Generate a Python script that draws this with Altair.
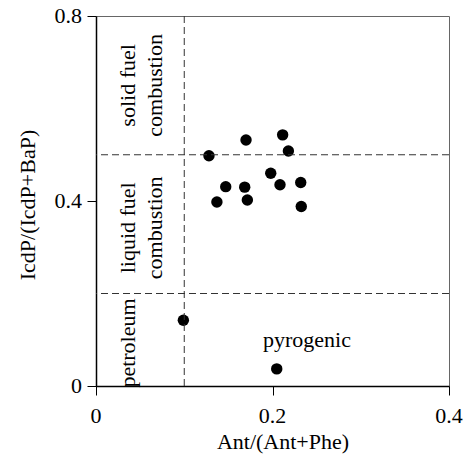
import altair as alt
import pandas as pd

# Data
ant_ratio = [0.128, 0.147, 0.137, 0.170, 0.2115, 0.218, 0.198, 0.2085, 0.232, 0.2326, 0.1685, 0.1715, 0.099, 0.2048]
icdp_ratio = [0.498, 0.431, 0.398, 0.532, 0.543, 0.508, 0.460, 0.435, 0.440, 0.388, 0.430, 0.402, 0.142, 0.037]

x_ticks = [0, 0.2, 0.4]
x_tick_labels = ["0", "0.2", "0.4"]
y_ticks = [0, 0.4, 0.8]
y_tick_labels = ["0", "0.4", "0.8"]

x_title = "Ant/(Ant+Phe)"
y_title = "IcdP/(IcdP+BaP)"

vline_x = [0.1]
hline_y = [0.2, 0.5]

rot_labels = ["solid fuel", "combustion", "liquid fuel", "combustion", "petroleum"]
rot_x = [0.0363, 0.0669, 0.0363, 0.0669, 0.0363]
rot_y = [0.650, 0.650, 0.342, 0.342, 0.093]

hor_labels = ["pyrogenic"]
hor_x = [0.239]
hor_y = [0.0995]

FONT = "Liberation Serif"
FS = 22

pts = pd.DataFrame({"x": ant_ratio, "y": icdp_ratio})
vdf = pd.DataFrame({"x": vline_x})
hdf = pd.DataFrame({"y": hline_y})
rdf = pd.DataFrame({"label": rot_labels, "x": rot_x, "y": rot_y})
tdf = pd.DataFrame({"label": hor_labels, "x": hor_x, "y": hor_y})
xtdf = pd.DataFrame({"x": x_ticks, "label": x_tick_labels})
ytdf = pd.DataFrame({"y": y_ticks, "label": y_tick_labels})
xtitle_df = pd.DataFrame({"label": [x_title]})
ytitle_df = pd.DataFrame({"label": [y_title]})

xscale = alt.Scale(domain=[0, 0.4], nice=False, zero=False)
yscale = alt.Scale(domain=[0, 0.8], nice=False, zero=False)

common = dict(grid=False, domainColor="black", domainWidth=1.5, tickColor="black",
              tickSize=9, tickWidth=1, labels=False, title="")

xaxis = alt.Axis(values=x_ticks, **common)
yaxis = alt.Axis(values=y_ticks, **common)

X = alt.X("x:Q", scale=xscale, axis=xaxis)
Y = alt.Y("y:Q", scale=yscale, axis=yaxis)

points = alt.Chart(pts).mark_circle(size=130, color="black", opacity=1).encode(x=X, y=Y)

vrule = alt.Chart(vdf).mark_rule(color="#333", strokeWidth=1, strokeDash=[7, 4]).encode(x=X)
hrule = alt.Chart(hdf).mark_rule(color="#333", strokeWidth=1, strokeDash=[7, 4]).encode(y=Y)

rtext = alt.Chart(rdf).mark_text(angle=270, font=FONT, fontSize=FS, color="black",
                                 align="center", baseline="middle").encode(
    x=X, y=Y, text="label:N")
htext = alt.Chart(tdf).mark_text(font=FONT, fontSize=FS, color="black",
                                 align="center", baseline="middle").encode(
    x=X, y=Y, text="label:N")

# tick labels placed through the shared scales
xlab = alt.Chart(xtdf).mark_text(font=FONT, fontSize=FS, color="black",
                                 align="center", baseline="alphabetic").encode(
    x=X, y=alt.value(407), text="label:N")
ylab = alt.Chart(ytdf).mark_text(font=FONT, fontSize=FS, color="black",
                                 align="right", baseline="middle").encode(
    y=Y, x=alt.value(-14), text="label:N")

# axis titles
xtit = alt.Chart(xtitle_df).mark_text(font=FONT, fontSize=FS, color="black",
                                      align="center", baseline="alphabetic").encode(
    x=alt.value(187), y=alt.value(433), text="label:N")
ytit = alt.Chart(ytitle_df).mark_text(font=FONT, fontSize=FS, color="black", angle=270,
                                      align="center", baseline="alphabetic").encode(
    x=alt.value(-61.5), y=alt.value(189), text="label:N")

chart = alt.layer(points, vrule, hrule, rtext, htext, xlab, ylab, xtit, ytit).properties(
    width=353, height=370,
    autosize=alt.AutoSizeParams(type="none"),
    padding={"left": 96, "top": 16, "right": 19, "bottom": 70},
    background="white",
).configure_view(
    stroke="#666", strokeWidth=1
)

chart.save("out.html", embed_options={"renderer": "svg", "actions": False})
